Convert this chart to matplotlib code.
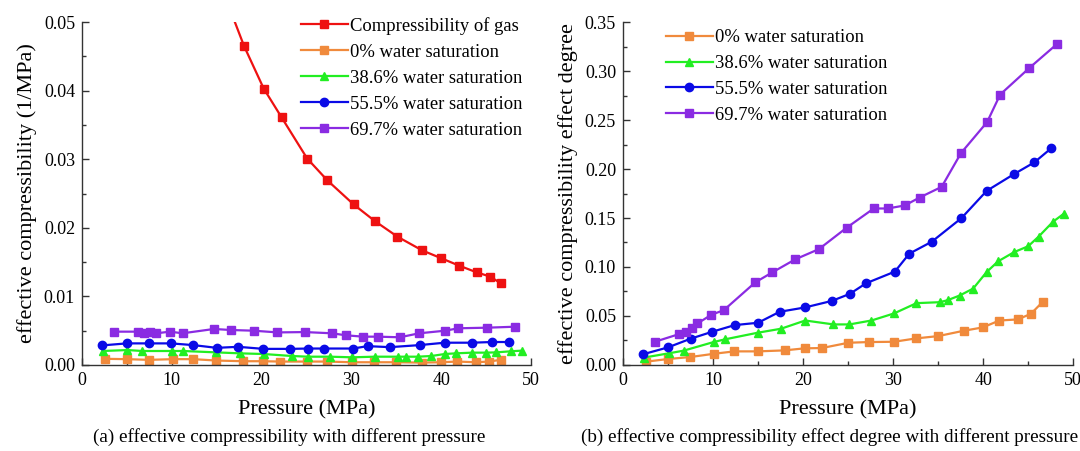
import matplotlib
matplotlib.use('Agg')
import matplotlib.pyplot as plt
from matplotlib.ticker import MultipleLocator

plt.rcParams['font.family'] = ['Liberation Serif', 'DejaVu Serif']

# pressure (MPa) of each series
p_gas = [16.0, 18.05, 20.24, 22.23, 25.08, 27.34, 30.26, 32.6, 35.14, 37.9, 39.94, 41.97, 43.97, 45.43, 46.66]
p_0 = [2.57, 4.99, 7.45, 10.14, 12.37, 14.98, 17.94, 20.17, 22.09, 25.04, 27.27, 30.1, 32.53, 35.02,
       37.83, 39.94, 41.82, 43.85, 45.31, 46.62]
p_386 = [2.3, 5.07, 6.72, 10.06, 11.29, 14.94, 17.55, 20.24, 23.38, 25.15, 27.6, 30.1, 32.6, 35.2,
         36.05, 37.4, 38.9, 40.4, 41.67, 43.47, 45.0, 46.16, 47.77, 48.96]
p_555 = [2.2, 5.0, 7.5, 9.9, 12.4, 15.0, 17.4, 20.2, 23.2, 25.2, 27.0, 30.2, 31.8, 34.3, 37.6, 40.4,
         43.4, 45.7, 47.6]
p_697 = [3.53, 6.22, 6.95, 7.62, 8.27, 9.8, 11.2, 14.7, 16.6, 19.13, 21.77, 24.83, 27.85, 29.4,
         31.3, 32.95, 35.4, 37.55, 40.45, 41.9, 45.15, 48.22]

# (a) effective compressibility (1/MPa)
c_gas = [0.0535, 0.0465, 0.0403, 0.0361, 0.0301, 0.0269, 0.0234, 0.0210, 0.0187, 0.0167, 0.0156,
         0.0145, 0.0135, 0.0129, 0.0119]
c_0 = [0.0009, 0.00085, 0.00075, 0.00085, 0.00085, 0.00065, 0.00055, 0.00055, 0.0005, 0.0005, 0.0005,
       0.0004, 0.0004, 0.0004, 0.00035, 0.0004, 0.0005, 0.0004, 0.0005, 0.00075]
c_386 = [0.00204, 0.00218, 0.00204, 0.00204, 0.00204, 0.00184, 0.0017, 0.0016, 0.00131, 0.00121,
         0.00121, 0.00112, 0.00121, 0.00121, 0.00121, 0.00121, 0.00131, 0.0016, 0.0017, 0.0018,
         0.0018, 0.00184, 0.002, 0.00209]
c_555 = [0.00285, 0.00315, 0.00315, 0.00315, 0.0029, 0.0025, 0.00265, 0.00235, 0.00235, 0.0024,
         0.0024, 0.0024, 0.00275, 0.0026, 0.0029, 0.00325, 0.00325, 0.00335, 0.00335]
c_697 = [0.00486, 0.00486, 0.00462, 0.00475, 0.00462, 0.00486, 0.00462, 0.00525, 0.0051, 0.005,
         0.00475, 0.0048, 0.00462, 0.00433, 0.00413, 0.00413, 0.00404, 0.00462, 0.005, 0.00535,
         0.00544, 0.00558]

# (b) effect degree
d_0 = [0.0034, 0.0061, 0.0081, 0.0115, 0.0139, 0.0139, 0.0149, 0.017, 0.0173, 0.0227, 0.0234, 0.0237,
       0.0271, 0.0295, 0.0349, 0.0383, 0.0454, 0.0465, 0.0522, 0.0644]
d_386 = [0.0075, 0.0119, 0.0146, 0.0234, 0.0261, 0.0329, 0.037, 0.0454, 0.0414, 0.0414, 0.0454,
         0.0526, 0.0631, 0.0641, 0.0661, 0.0709, 0.078, 0.0949, 0.1058, 0.1153, 0.1211, 0.1309,
         0.1462, 0.1543]
d_555 = [0.0109, 0.018, 0.0268, 0.0339, 0.0407, 0.0431, 0.0543, 0.0587, 0.0654, 0.0726, 0.0834,
         0.0953, 0.1136, 0.1258, 0.1499, 0.1777, 0.1946, 0.2068, 0.2214]
d_697 = [0.0237, 0.0315, 0.0336, 0.038, 0.0424, 0.0512, 0.056, 0.0844, 0.0946, 0.1078, 0.1183, 0.14,
         0.1597, 0.1597, 0.1628, 0.1709, 0.1818, 0.2163, 0.2479, 0.276, 0.3032, 0.3276]

labels = ['Compressibility of gas', '0% water saturation', '38.6% water saturation',
          '55.5% water saturation', '69.7% water saturation']
colors = ['#EE1111', '#F08A3C', '#22EE22', '#0A0AE6', '#8A2BE2']
markers = ['s', 's', '^', 'o', 's']

fig = plt.figure(figsize=(10.8, 4.51), dpi=100)
ax1 = fig.add_axes([0.0759, 0.1907, 0.4157, 0.7605])
ax2 = fig.add_axes([0.5769, 0.1907, 0.4167, 0.7605])

for x, y, i in [(p_gas, c_gas, 0), (p_0, c_0, 1), (p_386, c_386, 2), (p_555, c_555, 3), (p_697, c_697, 4)]:
    ax1.plot(x, y, color=colors[i], marker=markers[i], ms=6, lw=1.6, label=labels[i])

for x, y, i in [(p_0, d_0, 1), (p_386, d_386, 2), (p_555, d_555, 3), (p_697, d_697, 4)]:
    ax2.plot(x, y, color=colors[i], marker=markers[i], ms=6, lw=1.6, label=labels[i])

ax1.set_xlim(0, 50)
ax1.set_ylim(0, 0.05)
ax1.yaxis.set_major_locator(MultipleLocator(0.01))
ax1.yaxis.set_minor_locator(MultipleLocator(0.005))
ax1.set_yticklabels([f'{v:.2f}' for v in ax1.get_yticks()])
ax1.set_ylabel('effective compressibility (1/MPa)', fontsize=16, labelpad=5)

ax2.set_xlim(0, 50)
ax2.set_ylim(0, 0.35)
ax2.yaxis.set_major_locator(MultipleLocator(0.05))
ax2.yaxis.set_minor_locator(MultipleLocator(0.025))
ax2.set_yticklabels([f'{v:.2f}' for v in ax2.get_yticks()])
ax2.set_ylabel('effective compressibility effect degree', fontsize=16, labelpad=5)

for ax in (ax1, ax2):
    ax.xaxis.set_major_locator(MultipleLocator(10))
    ax.xaxis.set_minor_locator(MultipleLocator(5))
    ax.spines['top'].set_visible(False)
    ax.spines['right'].set_visible(False)
    for s in ('left', 'bottom'):
        ax.spines[s].set_linewidth(1.0)
        ax.spines[s].set_color('#333333')
    ax.tick_params(which='major', direction='in', length=5, width=1, labelsize=13, color='#333333', pad=5)
    ax.tick_params(which='minor', direction='in', length=3, width=1, color='#333333')
    ax.set_xlabel('Pressure (MPa)', fontsize=16, labelpad=8)

ax1.legend(loc='upper right', bbox_to_anchor=(1.005, 1.047), frameon=False, fontsize=13.4, handlelength=2.5,
           handletextpad=0.1, labelspacing=0.48, borderaxespad=0.2)
ax2.legend(loc='upper left', bbox_to_anchor=(0.071, 1.012), frameon=False, fontsize=13.4, handlelength=2.5,
           handletextpad=0.1, labelspacing=0.48, borderaxespad=0.2)

fig.text(0.268, 0.02, '(a) effective compressibility with different pressure', fontsize=13.8, ha='center')
fig.text(0.768, 0.02, '(b) effective compressibility effect degree with different pressure', fontsize=13.8,
         ha='center')

plt.savefig('out.png', dpi=100)
